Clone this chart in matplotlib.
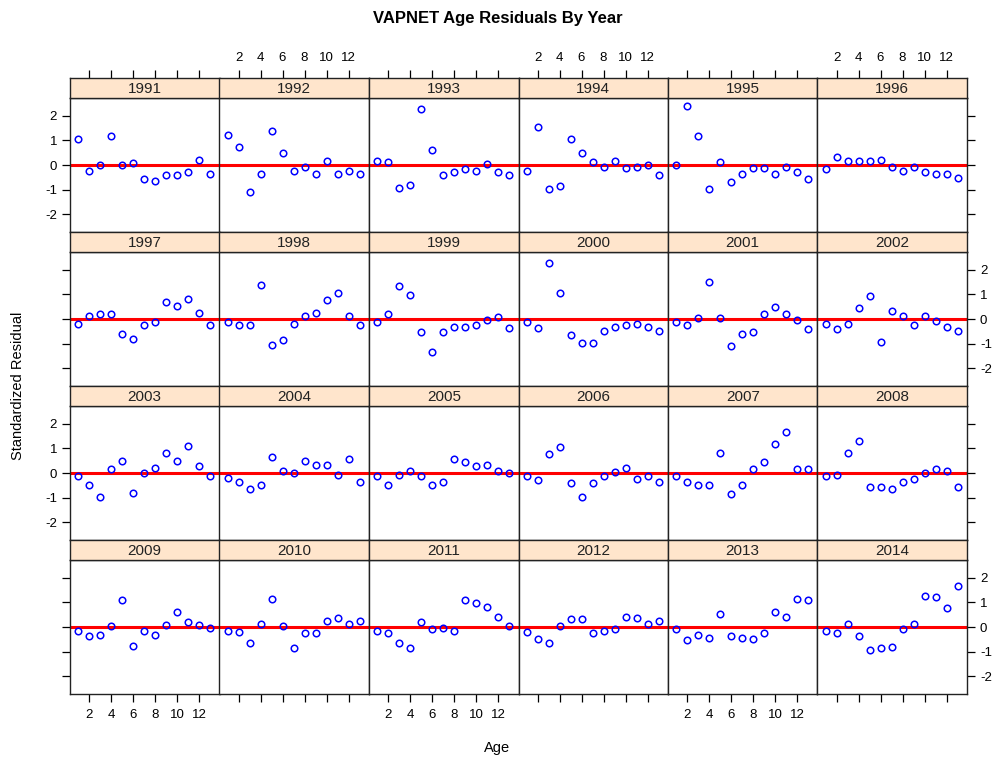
import numpy as np
import matplotlib
matplotlib.use("Agg")
import matplotlib.pyplot as plt

"""
Lattice style residual plot, one panel per year, 4 rows x 6 columns
"""

plt.rcParams['font.family'] = ['Liberation Sans', 'DejaVu Sans']
plt.rcParams['axes.unicode_minus'] = False

ages = list(range(1, 14))
years = list(range(1991, 2015))
x_ticks = [2, 4, 6, 8, 10, 12]
y_ticks = [-2, -1, 0, 1, 2]

# standardized residuals by year, ages 1..13
r1991 = [1.07, -0.24, 0.00, 1.18, 0.00, 0.10, -0.58, -0.64, -0.40, -0.40, -0.30, 0.22, -0.35]
r1992 = [1.23, 0.73, -1.09, -0.35, 1.40, 0.50, -0.24, -0.07, -0.35, 0.16, -0.35, -0.24, -0.35]
r1993 = [0.16, 0.11, -0.92, -0.81, 2.27, 0.62, -0.40, -0.30, -0.18, -0.24, 0.05, -0.30, -0.40]
r1994 = [-0.24, 1.53, -0.97, -0.86, 1.07, 0.50, 0.11, -0.07, 0.16, -0.12, -0.07, 0.00, -0.40]
r1995 = [0.00, 2.38, 1.18, -0.97, 0.11, -0.69, -0.35, -0.12, -0.12, -0.35, -0.07, -0.30, -0.58]
r1996 = [-0.18, 0.34, 0.16, 0.16, 0.16, 0.22, -0.07, -0.24, -0.07, -0.30, -0.35, -0.35, -0.53]
r1997 = [-0.20, 0.13, 0.20, 0.20, -0.59, -0.81, -0.25, -0.13, 0.71, 0.53, 0.81, 0.25, -0.25]
r1998 = [-0.13, -0.25, -0.25, 1.39, -1.04, -0.87, -0.20, 0.13, 0.25, 0.76, 1.04, 0.13, -0.25]
r1999 = [-0.13, 0.20, 1.32, 0.99, -0.53, -1.32, -0.53, -0.31, -0.31, -0.25, -0.03, 0.08, -0.36]
r2000 = [-0.13, -0.36, 2.28, 1.04, -0.64, -0.97, -0.97, -0.48, -0.31, -0.25, -0.20, -0.31, -0.48]
r2001 = [-0.13, -0.25, 0.03, 1.49, 0.03, -1.09, -0.59, -0.53, 0.20, 0.48, 0.20, -0.03, -0.41]
r2002 = [-0.20, -0.41, -0.20, 0.43, 0.93, -0.92, 0.31, 0.13, -0.25, 0.13, -0.08, -0.31, -0.48]
r2003 = [-0.12, -0.47, -0.97, 0.15, 0.49, -0.80, 0.00, 0.21, 0.83, 0.49, 1.11, 0.27, -0.12]
r2004 = [-0.19, -0.35, -0.63, -0.47, 0.65, 0.09, 0.00, 0.49, 0.32, 0.32, -0.07, 0.55, -0.35]
r2005 = [-0.12, -0.47, -0.07, 0.09, -0.12, -0.47, -0.35, 0.55, 0.43, 0.27, 0.32, 0.09, 0.00]
r2006 = [-0.12, -0.29, 0.77, 1.05, -0.40, -0.97, -0.40, -0.12, 0.04, 0.21, -0.23, -0.12, -0.35]
r2007 = [-0.12, -0.35, -0.47, -0.47, 0.83, -0.85, -0.47, 0.15, 0.43, 1.16, 1.67, 0.15, 0.15]
r2008 = [-0.12, -0.07, 0.83, 1.28, -0.57, -0.57, -0.63, -0.35, -0.23, 0.00, 0.15, 0.09, -0.57]
r2009 = [-0.15, -0.37, -0.31, 0.03, 1.09, -0.76, -0.15, -0.31, 0.08, 0.59, 0.19, 0.08, -0.03]
r2010 = [-0.15, -0.20, -0.65, 0.13, 1.15, 0.03, -0.87, -0.25, -0.25, 0.25, 0.36, 0.13, 0.25]
r2011 = [-0.15, -0.25, -0.65, -0.87, 0.19, -0.09, -0.03, -0.15, 1.09, 0.97, 0.81, 0.41, 0.03]
r2012 = [-0.20, -0.48, -0.65, 0.03, 0.31, 0.31, -0.25, -0.15, -0.09, 0.41, 0.36, 0.13, 0.25]
r2013 = [-0.09, -0.53, -0.31, -0.43, 0.53, -0.37, -0.43, -0.48, -0.25, 0.59, 0.41, 1.15, 1.09]
r2014 = [-0.15, -0.25, 0.13, -0.37, -0.93, -0.87, -0.81, -0.09, 0.13, 1.27, 1.20, 0.76, 1.65]

residuals = [r1991, r1992, r1993, r1994, r1995, r1996, r1997, r1998,
             r1999, r2000, r2001, r2002, r2003, r2004, r2005, r2006,
             r2007, r2008, r2009, r2010, r2011, r2012, r2013, r2014]

W, H = 995, 759
fig = plt.figure(figsize=(W / 100, H / 100), dpi=100)

n_rows, n_cols = 4, 6
left_px, top_px = 70, 78
col_w = 149.5
strip_h, panel_h = 20, 134
row_h = strip_h + panel_h

xlim = (0.27, 13.86)
ylim = (-2.72, 2.72)
tick_len = 5.8
strip_color = '#ffe5cc'

for i, year in enumerate(years):
    r, c = divmod(i, n_cols)
    x0 = (left_px + c * col_w) / W
    y_strip_top = top_px + r * row_h
    y_panel_bot = y_strip_top + row_h

    ax = fig.add_axes([x0, 1 - y_panel_bot / H, col_w / W, panel_h / H])
    sax = fig.add_axes([x0, 1 - (y_strip_top + strip_h) / H, col_w / W, strip_h / H])

    # strip
    sax.set_facecolor(strip_color)
    sax.set_xlim(xlim)
    sax.set_ylim(0, 1)
    sax.text(0.5, 0.45, str(year), transform=sax.transAxes, ha='center', va='center',
             fontsize=11, color='#222222')
    sax.set_yticks([])
    for sp in sax.spines.values():
        sp.set_linewidth(1.0)
        sp.set_color('#222222')

    # panel
    ax.axhline(0, color='red', lw=2.2, zorder=1)
    ax.plot(ages, residuals[i], linestyle='none', marker='o', markersize=4.7,
            markerfacecolor='none', markeredgecolor='#0000ff', markeredgewidth=1.1, zorder=2)
    ax.set_xlim(xlim)
    ax.set_ylim(ylim)
    for sp in ax.spines.values():
        sp.set_linewidth(1.0)
        sp.set_color('#222222')

    # ticks, lattice style alternating labels
    ax.tick_params(direction='out', length=tick_len, width=0.9, labelsize=9.5)
    ax.tick_params(axis='x', pad=5)
    ax.tick_params(axis='y', pad=3.5)
    sax.tick_params(direction='out', length=tick_len, width=0.9, labelsize=9.5, pad=4.5)

    # bottom
    if r == n_rows - 1:
        ax.set_xticks(x_ticks)
        ax.tick_params(axis='x', bottom=True, labelbottom=(c % 2 == 0), top=False)
    else:
        ax.set_xticks([])
    # top (on strip)
    if r == 0:
        sax.set_xticks(x_ticks)
        sax.tick_params(axis='x', top=True, labeltop=(c % 2 == 1),
                        bottom=False, labelbottom=False)
    else:
        sax.set_xticks([])

    # left / right
    if c == 0 or c == n_cols - 1:
        ax.set_yticks(y_ticks)
        ax.set_yticklabels([str(v) for v in y_ticks])
        ax.tick_params(axis='y', left=(c == 0), right=(c == n_cols - 1),
                       labelleft=(c == 0 and r % 2 == 0),
                       labelright=(c == n_cols - 1 and r % 2 == 1))
    else:
        ax.set_yticks([])

fig.text(0.5, 1 - 18 / H, 'VAPNET Age Residuals By Year', ha='center', va='center',
         fontsize=12, fontweight='bold')
fig.text(0.5, 1 - 748 / H, 'Age', ha='center', va='center', fontsize=10.5)
fig.text(18 / W, 1 - 386 / H, 'Standardized Residual', ha='center', va='center',
         rotation=90, fontsize=10.5)

fig.savefig('out.png', dpi=100)
